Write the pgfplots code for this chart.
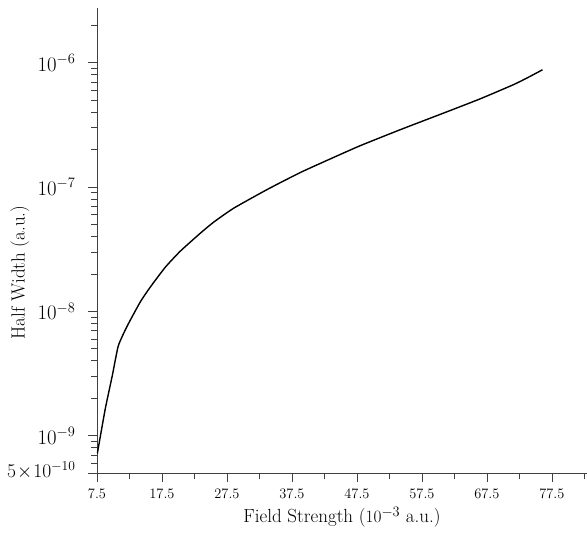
\documentclass[border=0pt]{standalone}
\usepackage{pgfplots}
\pgfplotsset{compat=1.18}
\begin{document}
\begin{tikzpicture}
\begin{axis}[name=ax, scale only axis, width=490pt, height=465pt,
  ymode=log, xmin=7.5, xmax=82.9, ymin=5e-10, ymax=2.76e-6,
  axis x line*=bottom, axis y line*=left,
  axis line style={black!75, line width=0.7pt},
  tick align=outside, tick style={black!75, line width=0.7pt},
  major tick length=9pt, minor tick length=6pt,
  xtick={7.5,17.5,...,77.5}, minor xtick={12.5,22.5,...,82.5},
  ytick={5e-10,1e-9,1e-8,1e-7,1e-6},
  yticklabels={\raisebox{6pt}{\scalebox{0.94}{$5\!\times\!10^{-10}$}}\hspace{-3pt},$10^{-9}$,$10^{-8}$,$10^{-7}$,$10^{-6}$},
  minor ytick={6e-10,7e-10,8e-10,9e-10,
    2e-9,3e-9,4e-9,5e-9,6e-9,7e-9,8e-9,9e-9,
    2e-8,3e-8,4e-8,5e-8,6e-8,7e-8,8e-8,9e-8,
    2e-7,3e-7,4e-7,5e-7,6e-7,7e-7,8e-7,9e-7,2e-6},
  xticklabel style={font=\fontsize{14}{16}\selectfont, yshift=-4pt,
    /pgf/number format/fixed, /pgf/number format/precision=1},
  yticklabel style={font=\fontsize{19.5}{22}\selectfont, xshift=-9pt},
  xlabel={Field Strength ($10^{-3}$ a.u.)},
  ylabel={Half Width (a.u.)},
  label style={font=\fontsize{19}{21}\selectfont},
  xlabel style={at={([yshift=-44pt]axis description cs:0.5,0)}, anchor=center},
  ylabel style={at={([xshift=-77pt,yshift=-32pt]axis description cs:0,0.5)}, anchor=center},
]
\addplot[black, line width=1.4pt, smooth, tension=0.3] table {
x y
7.55 7.18e-10
8.78 1.65e-9
9.85 3.03e-9
10.78 5.28e-9
12.16 7.64e-9
14.16 1.19e-8
15.70 1.567e-8
18.01 2.265e-8
20.32 3.05e-8
23.39 4.25e-8
25.43 5.21e-8
28.51 6.75e-8
33.74 9.59e-8
38.82 1.312e-7
43.89 1.730e-7
48.05 2.158e-7
54.20 2.90e-7
61.43 4.05e-7
66.51 5.14e-7
71.59 6.67e-7
73.74 7.58e-7
76.05 8.79e-7
};
\end{axis}
\pgfresetboundingbox
\path (ax.south west) ++(-97pt,-60pt) rectangle (ax.north east) ++(0,8pt);
\end{tikzpicture}
\end{document}
